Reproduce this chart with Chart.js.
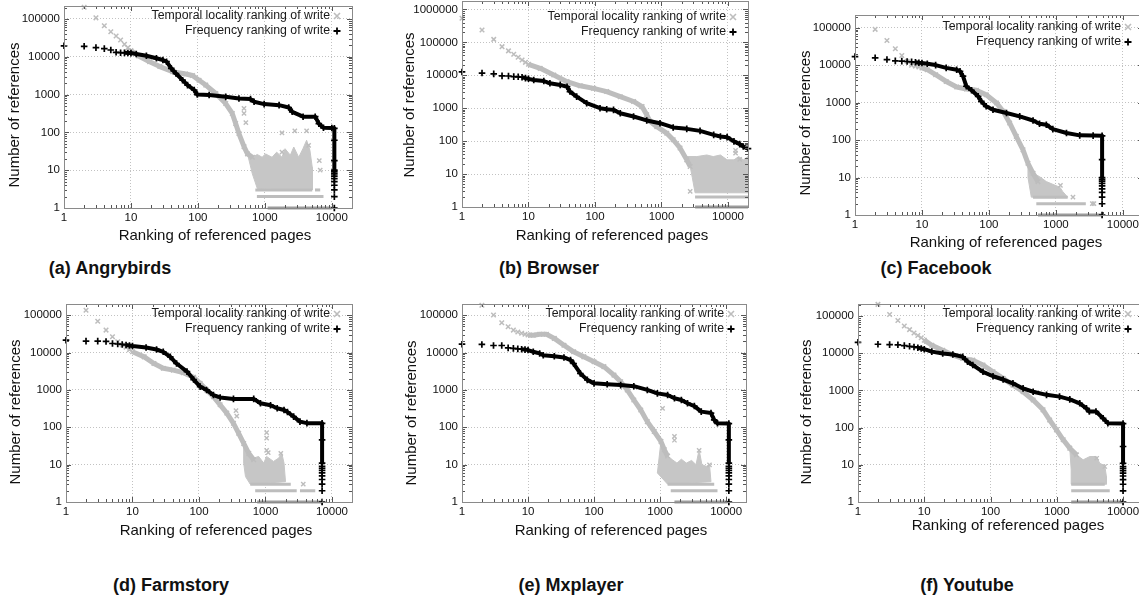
<!DOCTYPE html>
<html>
<head>
<meta charset="utf-8">
<script src="https://cdn.jsdelivr.net/npm/chart.js@4.4.1/dist/chart.umd.min.js"></script>
<style>
  body { margin: 0; background: #fff; width: 1139px; height: 607px; overflow: hidden; position: relative; font-family: "Liberation Sans", Arial, sans-serif; }
  canvas { position: absolute; }
  .cap { position: absolute; font-weight: bold; font-size: 18px; color: #111; transform: translate(-50%, -50%); white-space: nowrap; }
</style>
</head>
<body>
<script>
// axis ticks and labels
const xTicks = [1, 10, 100, 1000, 10000];
const yTicks = [1, 10, 100, 1000, 10000, 100000];
const yTicksBrowser = [1, 10, 100, 1000, 10000, 100000, 1000000];
const seriesNames = ['Temporal locality ranking of write', 'Frequency ranking of write'];
const xTitle = 'Ranking of referenced pages';
const yTitle = 'Number of references';

// [rank, references]
// *Freq  = frequency ranking (black +)
// *Temp  = temporal locality ranking (grey x), the main curve
// *Cloud = outline of the scattered grey points in the tail
// *Stray = isolated grey points
// *Rows  = [references, first rank, last rank] of the flat grey rows at the bottom

// (a) Angrybirds
const angryFreq = [[1,19500],[2,18900],[3,17400],[4,16400],[5,15100],[6,13100],[7,12800],[8,12700],[9,12600],[10,12500],[12,11800],[17,10600],[24,9100],[30,8200],[34,7400],[40,4900],[47,3600],[59,2400],[70,1780],[88,1320],[98,1000],[147,970],[260,870],[410,790],[610,760],[690,645],[975,560],[1630,525],[2270,455],[2560,350],[3720,260],[5640,260],[6400,170],[7500,132],[10000,130],[10900,128],[10900,62],[10900,18],[10900,10],[10900,9],[10900,8],[10900,7],[10900,6],[10900,5],[10900,4],[10900,3],[10900,2],[10900,1]];
const angryTemp = [[2,204000],[3,107000],[4,66000],[5,46000],[6,35500],[7,27700],[8,21300],[9,17400],[10,14500],[13,10500],[19,7400],[27,5500],[42,4000],[66,3500],[83,3200],[104,2400],[131,1780],[185,1070],[260,580],[326,316],[366,172],[410,93],[488,42],[550,27],[650,22]];
const angryCloud = [[650,22],[770,26],[910,22],[1020,27],[1280,22],[1500,30],[1800,22],[2000,37],[2400,25],[2700,41],[3200,22],[3700,37],[4200,62],[4700,34],[5100,12],[5100,3],[770,3.3],[650,8],[550,27],[650,22]];
const angryStray = [[488,430],[488,316],[520,180],[1800,97],[1800,30],[2800,110],[4200,110],[4500,45],[6500,18],[6700,10]];
const angryRows = [[3,720,5100],[3,5600,6700],[2,760,7500],[1,1100,10000]];

// (b) Browser
const browserFreq = [[1,12600],[2,11700],[3,11000],[4,9600],[5,9500],[6,9100],[7,9000],[8,8700],[9,8200],[10,7800],[12,7200],[17,6700],[21,5700],[30,5100],[38,4500],[42,3200],[53,2250],[75,1420],[119,1000],[150,930],[190,890],[240,700],[380,560],[600,425],[950,350],[1500,260],[2400,236],[3800,205],[6100,155],[7700,138],[9700,132],[12300,98],[15000,81],[17000,69],[20000,59]];
const browserTemp = [[1,540000],[2,236000],[3,123000],[4,74000],[5,55000],[6,43500],[7,35300],[8,29000],[9,24700],[10,21500],[15,16200],[24,10200],[38,6400],[60,4800],[95,4000],[150,3200],[240,2240],[380,1600],[510,1120],[600,630],[670,400],[850,275],[1200,174],[1500,110],[1900,62],[2400,27],[2700,17]];
const browserCloud = [[1500,110],[1900,55],[2400,34],[3400,34],[4800,38],[6000,34],[7700,38],[9700,27],[12300,27],[14500,34],[17000,27],[20000,34],[20000,2.7],[3200,2.7],[2900,8],[2700,17],[1900,62],[1500,110]];
const browserStray = [[2700,3],[13000,52],[13000,43],[15000,28]];
const browserRows = [[2,3200,20000],[1,3200,20000]];

// (c) Facebook
const facebookFreq = [[1,17000],[2,15800],[3,14200],[4,13100],[5,12900],[6,12600],[7,12300],[8,12000],[9,11700],[10,11500],[12,11000],[16,10100],[23,8500],[33,7600],[37,6900],[41,5100],[46,2750],[55,2150],[69,1480],[77,1090],[91,800],[115,650],[183,530],[288,430],[456,335],[570,275],[720,258],[900,197],[1440,155],[2270,134],[3600,132],[4900,130],[4900,30],[4900,10],[4900,9],[4900,8],[4900,7],[4900,6],[4900,5],[4900,4],[4900,3],[4900,2],[4900,1]];
const facebookTemp = [[2,91000],[3,46000],[4,27500],[5,18200],[6,12800],[7,10000],[8,9500],[9,9000],[10,8500],[12,7600],[16,5600],[23,3700],[33,2630],[46,2330],[65,2150],[91,1630],[130,980],[163,590],[204,288],[256,126],[323,55],[383,24],[456,13],[540,7.8]];
const facebookCloud = [[383,24],[456,13],[570,10.6],[720,7.8],[900,6.6],[1150,5.5],[1270,4.2],[1500,3],[430,3],[383,10],[383,24]];
const facebookStray = [[1170,6.2],[1800,3],[3500,2],[3700,2]];
const facebookRows = [[3,456,1500],[2,510,2800],[1,540,4800]];

// (d) Farmstory
const farmFreq = [[1,21500],[2,20300],[3,20300],[4,19900],[5,17500],[6,17000],[7,16500],[8,16000],[9,15500],[10,15000],[16,13700],[23,12100],[29,10500],[37,7700],[46,5100],[66,3100],[83,1900],[104,1230],[130,1000],[165,730],[208,630],[330,575],[665,575],[840,440],[1190,390],[1500,323],[1900,290],[2140,257],[2650,193],[3300,142],[4200,129],[7100,128],[7100,46],[7100,11],[7100,9],[7100,8],[7100,7],[7100,6],[7100,5],[7100,4],[7100,3],[7100,2],[7100,1]];
const farmTemp = [[2,136000],[3,69000],[4,40000],[5,26500],[6,19400],[7,16000],[8,14000],[9,12000],[10,10500],[15,7700],[21,5100],[29,3800],[41,3400],[58,2900],[83,2180],[104,1500],[130,1000],[165,660],[208,400],[262,240],[330,128],[395,69],[470,37],[560,20],[665,13.5]];
const farmCloud = [[470,37],[530,20],[665,15],[790,16.6],[940,11],[1040,16.6],[1320,12.2],[1580,15],[1760,20],[1900,11],[2000,3.5],[590,3],[500,4.8],[470,11],[470,37]];
const farmStray = [[360,280],[370,200],[1040,72],[1040,51],[1040,24],[1100,21],[1700,20],[3700,3]];
const farmRows = [[3,590,2400],[2,700,2950],[2,3300,5600],[1,750,6900]];

// (e) Mxplayer
const mxFreq = [[1,16800],[2,16500],[3,15500],[4,15500],[5,13400],[6,13000],[7,12600],[8,12300],[9,12000],[10,11700],[12,10500],[15,9500],[17,8500],[25,8000],[35,7400],[44,6300],[49,5100],[62,2760],[79,1860],[100,1500],[158,1420],[253,1350],[400,1260],[640,1000],[910,810],[1300,730],[1650,600],[2100,540],[2600,440],[3300,370],[4200,263],[5900,240],[6600,158],[7400,128],[11000,126],[11000,46],[11000,11],[11000,9],[11000,8],[11000,7],[11000,6],[11000,5],[11000,4],[11000,3],[11000,2],[11000,1]];
const mxTemp = [[2,186000],[3,102000],[4,63000],[5,49000],[6,40000],[7,35500],[8,33000],[9,31000],[10,29500],[12,29300],[15,31000],[19,31000],[25,24000],[35,15800],[49,10500],[70,7700],[100,5700],[141,4200],[200,2500],[253,1650],[318,1000],[400,540],[510,290],[640,142],[815,77],[1030,42],[1160,25],[1300,17]];
const mxCloud = [[1160,25],[1300,17],[1540,13.5],[1800,11],[2100,14],[2500,11],[3000,13],[3500,10],[3900,25],[4300,10],[5000,9],[5600,10],[5900,3.5],[1300,3],[910,6],[1030,42],[1160,25]];
const mxStray = [[1090,320],[1650,57],[1650,45],[3900,24],[5600,9.9]];
const mxRows = [[3,1300,6600],[2,1450,7400],[1,1650,10500]];

// (f) Youtube
const youtubeFreq = [[1,19600],[2,17400],[3,17000],[4,16800],[5,16000],[6,15300],[7,14700],[8,14000],[9,13400],[10,12800],[13,11000],[19,9800],[27,9200],[38,8000],[45,5900],[54,4800],[77,3160],[109,2400],[155,1960],[218,1550],[310,1130],[440,920],[700,760],[1100,680],[1570,575],[2220,450],[2800,330],[3100,270],[3900,270],[5000,178],[5900,131],[10000,128],[10000,31],[10000,11],[10000,9],[10000,8],[10000,7],[10000,6],[10000,5],[10000,4],[10000,3],[10000,2],[10000,1]];
const youtubeTemp = [[2,205000],[3,110000],[4,76000],[5,54000],[6,43000],[7,35000],[8,30000],[9,26000],[10,22400],[13,16300],[19,12000],[27,8900],[38,7200],[54,6500],[77,4800],[109,3160],[155,2100],[218,1380],[310,920],[440,550],[620,300],[780,160],[990,87],[1250,47],[1570,28],[1980,18.5]];
const youtubeCloud = [[1570,28],[1980,18.5],[2500,13.6],[3150,16.7],[3950,16.7],[4450,11],[5300,9.4],[5600,4.9],[5600,3],[1650,3],[1650,7.3],[1570,28]];
const youtubeStray = [[4000,15],[5300,9]];
const youtubeRows = [[3,1650,5300],[2,1650,6300],[1,1650,10000]];

const panels = [
  { caption: '(a) Angrybirds', freq: angryFreq, temp: angryTemp, cloud: angryCloud, stray: angryStray, rows: angryRows, yTicks: yTicks },
  { caption: '(b) Browser', freq: browserFreq, temp: browserTemp, cloud: browserCloud, stray: browserStray, rows: browserRows, yTicks: yTicksBrowser },
  { caption: '(c) Facebook', freq: facebookFreq, temp: facebookTemp, cloud: facebookCloud, stray: facebookStray, rows: facebookRows, yTicks: yTicks },
  { caption: '(d) Farmstory', freq: farmFreq, temp: farmTemp, cloud: farmCloud, stray: farmStray, rows: farmRows, yTicks: yTicks },
  { caption: '(e) Mxplayer', freq: mxFreq, temp: mxTemp, cloud: mxCloud, stray: mxStray, rows: mxRows, yTicks: yTicks },
  { caption: '(f) Youtube', freq: youtubeFreq, temp: youtubeTemp, cloud: youtubeCloud, stray: youtubeStray, rows: youtubeRows, yTicks: yTicks }
];

// page placement of each plot (pixels)
const boxes = [
  { left: 64,  top: 6,   right: 352,  bottom: 208, yMax: 2.2e5, yTitleAt: [15, 115],  xTitleAt: [215, 236],  keyTop: 10, capAt: [110, 268] },
  { left: 462, top: 1,   right: 748,  bottom: 207, yMax: 1.8e6, yTitleAt: [410, 105], xTitleAt: [612, 236],  keyTop: 16, capAt: [549, 268] },
  { left: 855, top: 15,  right: 1143, bottom: 215, yMax: 2.2e5, yTitleAt: [806, 123], xTitleAt: [1006, 243], keyTop: 12, capAt: [936, 268] },
  { left: 66,  top: 304, right: 352,  bottom: 502, yMax: 2.0e5, yTitleAt: [16, 412],  xTitleAt: [216, 531],  keyTop: 10, capAt: [171, 585] },
  { left: 462, top: 304, right: 746,  bottom: 502, yMax: 2.0e5, yTitleAt: [412, 413], xTitleAt: [611, 531],  keyTop: 10, capAt: [571, 585] },
  { left: 858, top: 304, right: 1143, bottom: 502, yMax: 2.1e5, yTitleAt: [807, 412], xTitleAt: [1008, 526], keyTop: 10, capAt: [967, 585] }
];

const GREY = '#bdbdbd';
const GREY_CLOUD = '#c6c6c6';
const GREY_DARK = '#9c9c9c';
const FONT = '"Liberation Sans", Arial, sans-serif';
const NONE = 'rgba(0,0,0,0)';

const toXY = arr => arr.map(([x, y]) => ({ x, y }));

// gnuplot style frame, inner ticks, key and axis titles
const gnuFrame = {
  id: 'gnuFrame',
  afterDatasetsDraw(chart, args, o) {
    const { ctx, chartArea: a, scales: { x, y } } = chart;
    ctx.save();
    ctx.strokeStyle = '#555';
    ctx.lineWidth = 1;
    ctx.beginPath();
    for (let d = 1; d <= x.max; d *= 10) {
      for (let m = 1; m <= 9; m++) {
        const v = d * m;
        if (v > x.max) break;
        const px = Math.round(x.getPixelForValue(v)) + 0.5;
        const len = m === 1 ? 5 : 3;
        ctx.moveTo(px, a.bottom); ctx.lineTo(px, a.bottom - len);
        ctx.moveTo(px, a.top); ctx.lineTo(px, a.top + len);
      }
    }
    for (let d = 1; d <= y.max; d *= 10) {
      for (let m = 1; m <= 9; m++) {
        const v = d * m;
        if (v > y.max) break;
        const py = Math.round(y.getPixelForValue(v)) + 0.5;
        const len = m === 1 ? 5 : 3;
        ctx.moveTo(a.left, py); ctx.lineTo(a.left + len, py);
        ctx.moveTo(a.right, py); ctx.lineTo(a.right - len, py);
      }
    }
    ctx.stroke();
    ctx.strokeStyle = '#8a8a8a';
    ctx.strokeRect(Math.round(a.left) + 0.5, Math.round(a.top) + 0.5, Math.round(a.right - a.left), Math.round(a.bottom - a.top));

    // key
    ctx.font = '12.3px ' + FONT;
    ctx.textAlign = 'right';
    ctx.textBaseline = 'middle';
    ctx.fillStyle = '#1a1a1a';
    seriesNames.forEach((name, i) => {
      const ty = a.top + o.keyTop + i * 15;
      ctx.fillText(name, a.right - 22, ty);
      const mx = a.right - 15;
      ctx.beginPath();
      if (i === 0) {
        ctx.strokeStyle = GREY; ctx.lineWidth = 1.6;
        ctx.moveTo(mx - 3, ty - 3); ctx.lineTo(mx + 3, ty + 3);
        ctx.moveTo(mx - 3, ty + 3); ctx.lineTo(mx + 3, ty - 3);
      } else {
        ctx.strokeStyle = '#000'; ctx.lineWidth = 1.8;
        ctx.moveTo(mx - 3.5, ty); ctx.lineTo(mx + 3.5, ty);
        ctx.moveTo(mx, ty - 3.5); ctx.lineTo(mx, ty + 3.5);
      }
      ctx.stroke();
    });

    // axis titles
    ctx.font = '15px ' + FONT;
    ctx.textAlign = 'center';
    ctx.textBaseline = 'middle';
    ctx.fillStyle = '#111';
    ctx.fillText(xTitle, o.xTitleAt[0], o.xTitleAt[1]);
    ctx.translate(o.yTitleAt[0], o.yTitleAt[1]);
    ctx.rotate(-Math.PI / 2);
    ctx.fillText(yTitle, 0, 0);
    ctx.restore();
  }
};

panels.forEach((p, i) => {
  const b = boxes[i];
  const cl = b.yTitleAt[0] - 14;
  const ct = b.top - 14;
  const cr = b.right + 8;
  const cb = Math.max(b.xTitleAt[1] + 12, b.bottom + 30);
  const cv = document.createElement('canvas');
  cv.width = cr - cl;
  cv.height = cb - ct;
  cv.style.left = cl + 'px';
  cv.style.top = ct + 'px';
  cv.style.width = (cr - cl) + 'px';
  cv.style.height = (cb - ct) + 'px';
  document.body.appendChild(cv);

  const cap = document.createElement('div');
  cap.className = 'cap';
  cap.textContent = p.caption;
  cap.style.left = b.capAt[0] + 'px';
  cap.style.top = b.capAt[1] + 'px';
  document.body.appendChild(cap);

  const datasets = [
    {
      label: seriesNames[1],
      data: toXY(p.freq),
      showLine: true,
      borderColor: '#000',
      borderWidth: 4,
      borderJoinStyle: 'round',
      segment: { borderColor: c => (c.p0.parsed.x >= 8 && c.p1.parsed.y >= 9.5) ? '#000' : NONE },
      pointStyle: 'cross',
      pointRadius: 3.3,
      pointBorderWidth: 1.7,
      pointBorderColor: '#000',
      clip: 8
    },
    {
      label: 'stray',
      data: toXY(p.stray),
      pointStyle: 'crossRot',
      pointRadius: 3,
      pointBorderWidth: 1.4,
      pointBorderColor: GREY,
      clip: 8
    },
    {
      label: seriesNames[0],
      data: toXY(p.temp),
      showLine: true,
      borderColor: GREY,
      borderWidth: 5,
      borderJoinStyle: 'round',
      segment: { borderColor: c => c.p0.parsed.x >= 10 ? GREY : NONE },
      pointStyle: 'crossRot',
      pointRadius: 3.2,
      pointBorderWidth: 1.5,
      pointBorderColor: GREY,
      clip: 8
    },
    ...p.rows.map(([y, x0, x1]) => ({
      label: 'row',
      data: [{ x: x0, y }, { x: x1, y }],
      showLine: true,
      borderColor: y === 1 ? GREY_DARK : GREY,
      borderWidth: 3,
      pointRadius: 0,
      clip: 4
    })),
    {
      label: 'cloud',
      data: toXY(p.cloud),
      showLine: true,
      fill: 'shape',
      backgroundColor: GREY_CLOUD,
      borderColor: GREY_CLOUD,
      borderWidth: 1,
      pointRadius: 0
    }
  ];

  const tickFont = { family: FONT, size: 11.5 };

  new Chart(cv, {
    type: 'scatter',
    data: { datasets },
    options: {
      responsive: false,
      animation: false,
      events: [],
      layout: { padding: { top: 14, right: 8, left: 0, bottom: 0 } },
      plugins: {
        legend: { display: false },
        tooltip: { enabled: false },
        gnuFrame: {
          keyTop: b.keyTop,
          xTitleAt: [b.xTitleAt[0] - cl, b.xTitleAt[1] - ct],
          yTitleAt: [b.yTitleAt[0] - cl, b.yTitleAt[1] - ct]
        }
      },
      scales: {
        x: {
          type: 'logarithmic',
          min: 1,
          max: 20000,
          afterBuildTicks: s => { s.ticks = xTicks.map(v => ({ value: v })); },
          afterFit: s => { s.height = cb - b.bottom; },
          ticks: { callback: v => String(v), font: tickFont, color: '#111', padding: 3, autoSkip: false, maxRotation: 0 },
          grid: { color: '#c2c2c2', drawTicks: false, lineWidth: 1 },
          border: { display: false, dash: [1, 2] }
        },
        y: {
          type: 'logarithmic',
          min: 1,
          max: b.yMax,
          afterBuildTicks: s => { s.ticks = p.yTicks.map(v => ({ value: v })); },
          afterFit: s => { s.width = b.left - cl; },
          ticks: { callback: v => String(v), font: tickFont, color: '#111', padding: 4, autoSkip: false },
          grid: { color: '#c2c2c2', drawTicks: false, lineWidth: 1 },
          border: { display: false, dash: [1, 2] }
        }
      }
    },
    plugins: [gnuFrame]
  });
});
</script>
</body>
</html>
